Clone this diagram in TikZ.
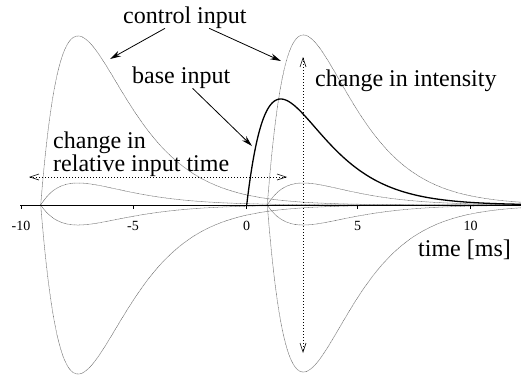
\documentclass[tikz,border=0pt]{standalone}
\usepackage{fontspec}
\setmainfont{Liberation Serif}
\usetikzlibrary{arrows.meta}
\begin{document}
\begin{tikzpicture}[x=1pt,y=-1pt,
  lbl/.style={font=\fontsize{24}{24}\selectfont, inner sep=0pt, anchor=base west},
  ticklbl/.style={font=\fontsize{14}{14}\selectfont, inner sep=0pt, anchor=base},
  ctrl/.style={black!60, line width=0.5pt, dash pattern=on 0.8pt off 0.5pt},
  basecurve/.style={black, line width=1.3pt},
  ptr/.style={-{Stealth[length=11pt,width=6pt]}, line width=0.8pt},
  dimarrow/.style={{Straight Barb[length=9pt,width=6pt,line width=0.6pt]}-{Straight Barb[length=9pt,width=6pt,line width=0.6pt]}, line width=0.7pt, dash pattern=on 0.7pt off 2.3pt},
  tickmark/.style={line width=0.6pt}
]
\useasboundingbox (0,0) rectangle (521,376);

% control input curves (left, starting at t = -9.2)
\draw[ctrl] plot[domain=40.7:521, samples=320] (\x, {205-169*((\x-40.7)/37.3)*exp(1-(\x-40.7)/37.3)});
\draw[ctrl] plot[domain=40.7:521, samples=320] (\x, {205+169*((\x-40.7)/37.3)*exp(1-(\x-40.7)/37.3)});
\draw[ctrl] plot[domain=40.7:521, samples=240] (\x, {205-22*((\x-40.7)/37.3)*exp(1-(\x-40.7)/37.3)});
\draw[ctrl] plot[domain=40.7:521, samples=240] (\x, {205+20*((\x-40.7)/37.3)*exp(1-(\x-40.7)/37.3)});
% control input curves (right, starting near t = 1)
\draw[ctrl] plot[domain=267.3:521, samples=240] (\x, {205-170*((\x-267.3)/36)*exp(1-(\x-267.3)/36)});
\draw[ctrl] plot[domain=267.3:521, samples=240] (\x, {205+167*((\x-267.3)/36)*exp(1-(\x-267.3)/36)});
\draw[ctrl] plot[domain=267.3:521, samples=200] (\x, {205-22*((\x-267.3)/36)*exp(1-(\x-267.3)/36)});
\draw[ctrl] plot[domain=267.3:521, samples=200] (\x, {205+20*((\x-267.3)/36)*exp(1-(\x-267.3)/36)});

% time axis
\coordinate (axl) at (20,205);
\coordinate (axr) at (521,205);
\draw[line width=0.9pt] (axl) -- (axr);
\foreach \px/\lab in {21/-10, 133/-5, 246.7/0, 357.7/5, 470.7/10}{
  \draw[tickmark] (\px,205) -- (\px,208.5);
  \node[ticklbl] at (\px,230) {\lab};
}

% base input
\draw[basecurve] plot[domain=246.7:521, samples=320] (\x, {205-106*((\x-246.7)/34)*exp(1-(\x-246.7)/34)});

% dotted arrows
\coordinate (hl) at (29,177);
\coordinate (hr) at (287,177);
\coordinate (vt) at (303,57);
\coordinate (vb) at (303,353);
\draw[dimarrow] (hl) -- (hr);
\draw[dimarrow] (vt) -- (vb);

% labels
\node[lbl] (ci) at (123,23) {control input};
\node[lbl] (bi) at (132,83) {base input};
\node[font=\fontsize{24}{20}\selectfont, inner sep=0pt, anchor=north west, align=left] (chg) at (53,131.5) {change in\\relative input time};
\node[lbl] (ci2) at (315,86) {change in intensity};
\node[lbl] (tm) at (418,256) {time [ms]};

\coordinate (c1) at (110,59);
\coordinate (c2) at (281,61);
\coordinate (b1) at (252,146);
\draw[ptr] (ci) -- (c1);
\draw[ptr] (ci) -- (c2);
\draw[ptr] (bi) -- (b1);
\end{tikzpicture}
\end{document}
